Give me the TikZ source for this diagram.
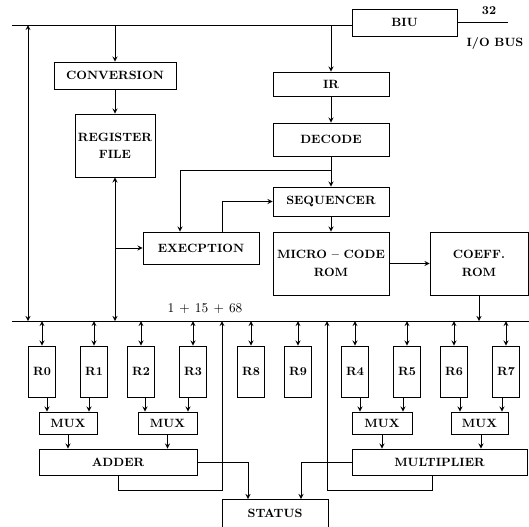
\documentclass[tikz,border=0pt]{standalone}
\begin{document}
\begin{tikzpicture}[>=stealth, x=.75pt, y=-.75pt, line width=.7pt,
  font=\bfseries\fontsize{9}{11}\selectfont,
  blk/.style={draw, rectangle, align=center, inner sep=0pt},
  reg/.style={blk, minimum width=27*.75pt, minimum height=51*.75pt}]
\useasboundingbox (0,0) rectangle (529,526);
% buses
\coordinate (tbus) at (12,25);
\coordinate (bus) at (12,321);
\node[blk, minimum width=105*.75pt, minimum height=27*.75pt] (biu) at (404.5,22.5) {BIU};
\draw (tbus) -- (tbus -| biu.west);
\draw (biu.east) -- (508,22.5) coordinate (io);
\node at (489,11) {32};
\node at (495,43) {I/O BUS};
\draw (bus) -- (529,321);
\node[font=\fontsize{10}{12}\selectfont] at (205,309) {$1\,+\,15\,+\,68$};
\draw[<->] (28,0 |- tbus) -- (28,0 |- bus);
% left column
\node[blk, minimum width=122*.75pt, minimum height=27*.75pt] (conv) at (115,75.5) {CONVERSION};
\node[blk, minimum width=80*.75pt, minimum height=63*.75pt] (rf) at (115,145.5) {REGISTER\\[2pt]FILE};
\node[blk, minimum width=116*.75pt, minimum height=32*.75pt] (exc) at (201,248) {EXECPTION};
\draw[->] (conv.north |- tbus) -- (conv.north);
\draw[->] (conv.south) -- (rf.north);
\draw[<->] (rf.south) -- (rf.south |- bus);
\draw[->] (115,248) -- (exc.west);
% control column
\node[blk, minimum width=116*.75pt, minimum height=24*.75pt] (ir) at (331,84) {IR};
\node[blk, minimum width=116*.75pt, minimum height=33*.75pt] (dec) at (331,139.5) {DECODE};
\node[blk, minimum width=116*.75pt, minimum height=29*.75pt] (seq) at (331,201.5) {SEQUENCER};
\node[blk, minimum width=116*.75pt, minimum height=63*.75pt] (mic) at (331,263.5) {MICRO -- CODE\\[2pt]ROM};
\node[blk, minimum width=98*.75pt, minimum height=63*.75pt] (coef) at (479,263.5) {COEFF.\\[2pt]ROM};
\draw[->] (ir.north |- tbus) -- (ir.north);
\draw[->] (ir.south) -- (dec.north);
\draw[->] (dec.south) -- (seq.north);
\coordinate (bx) at (180,170);
\draw[->] (dec.south |- bx) -- (bx) -- (bx |- exc.north);
\coordinate (ex) at (222,203);
\draw[->] (ex |- exc.north) |- (seq.west);
\draw[->] (seq.south) -- (mic.north);
\draw[->] (mic.east) -- (coef.west);
\draw[->] (coef.south) -- (coef.south |- bus);
% registers
\foreach \n/\x in {R0/42, R1/94, R2/141, R3/193, R8/251, R9/298, R4/355, R5/407, R6/454, R7/506}{
  \node[reg] (\n) at (\x,371.5) {\n};
  \draw[<->] (\n.north |- bus) -- (\n.north);
}
% mux, adder, multiplier
\node[blk, minimum width=58*.75pt, minimum height=22*.75pt] (mx1) at (68,423) {MUX};
\node[blk, minimum width=59*.75pt, minimum height=22*.75pt] (mx2) at (167.5,423) {MUX};
\node[blk, minimum width=60*.75pt, minimum height=22*.75pt] (mx3) at (382,423) {MUX};
\node[blk, minimum width=57*.75pt, minimum height=22*.75pt] (mx4) at (479.5,423) {MUX};
\foreach \r/\m/\x in {R0/mx1/47, R1/mx1/89, R2/mx2/145, R3/mx2/188, R4/mx3/360, R5/mx3/403, R6/mx4/460, R7/mx4/502}
  \draw[->] (\x,0 |- \r.south) -- (\x,0 |- \m.north);
\node[blk, minimum width=158*.75pt, minimum height=26*.75pt] (add) at (118,462) {ADDER};
\node[blk, minimum width=175*.75pt, minimum height=26*.75pt] (mul) at (439.5,462) {MULTIPLIER};
\draw[->] (mx1.south) -- (mx1.south |- add.north);
\draw[->] (mx2.south) -- (mx2.south |- add.north);
\draw[->] (mx3.south) -- (mx3.south |- mul.north);
\draw[->] (481,0 |- mx4.south) -- (481,0 |- mul.north);
\node[blk, minimum width=106*.75pt, minimum height=36*.75pt, anchor=north] (st) at (275,499) {\raisebox{7pt}{STATUS}};
\draw[->] (add.east) -| (248,0 |- st.north);
\draw[->] (mul.west) -| (301,0 |- st.north);
\coordinate (fa) at (222,490);
\coordinate (fm) at (327,490);
\draw[->] (add.south) |- (fa) -- (fa |- bus);
\draw[->] (432,0 |- mul.south) |- (fm) -- (fm |- bus);
\end{tikzpicture}
\end{document}
